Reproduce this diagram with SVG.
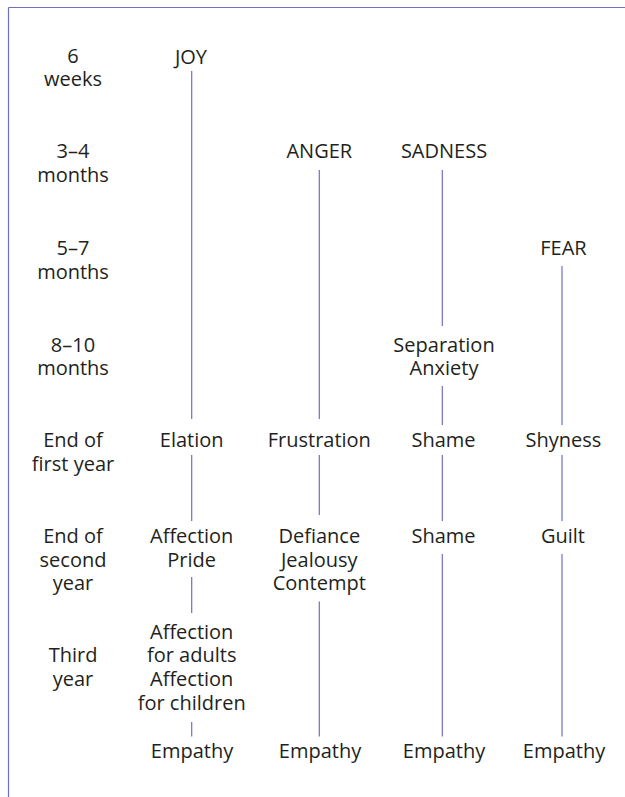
<svg xmlns="http://www.w3.org/2000/svg" width="625" height="797" viewBox="0 0 625 797">
  <style>
    text { font-family: "Open Sans", "Noto Sans", "Liberation Sans", sans-serif; font-size: 20px; fill: #231f20; text-anchor: middle; }
    .rule { stroke: #6f6fbf; stroke-width: 1.2; fill: none; }
  </style>
  <rect width="625" height="797" fill="#ffffff"/>

  <!-- frame -->
  <g id="frame">
    <line class="rule" x1="8.5" y1="7.5" x2="625" y2="7.5"/>
    <line class="rule" x1="8.5" y1="7.5" x2="8.5" y2="797"/>
  </g>

  <!-- age column -->
  <g id="ages">
    <g id="age-6w"><text x="73" y="63">6</text><text x="73" y="86">weeks</text></g>
    <g id="age-3-4m"><text x="73" y="158">3–4</text><text x="73" y="182">months</text></g>
    <g id="age-5-7m"><text x="73" y="255">5–7</text><text x="73" y="279">months</text></g>
    <g id="age-8-10m"><text x="73" y="351.5">8–10</text><text x="73" y="375">months</text></g>
    <g id="age-1y"><text x="73" y="446.5">End of</text><text x="73" y="470.5">first year</text></g>
    <g id="age-2y"><text x="73" y="543">End of</text><text x="73" y="566.5">second</text><text x="73" y="590">year</text></g>
    <g id="age-3y"><text x="73" y="662">Third</text><text x="73" y="686">year</text></g>
  </g>

  <!-- connectors -->
  <g id="connectors">
    <!-- joy -->
    <line class="rule" x1="191.7" y1="71" x2="191.7" y2="419"/>
    <line class="rule" x1="191.7" y1="455" x2="191.7" y2="521"/>
    <line class="rule" x1="191.7" y1="577" x2="191.7" y2="613"/>
    <line class="rule" x1="191.7" y1="722" x2="191.7" y2="736.5"/>
    <!-- anger -->
    <line class="rule" x1="319.3" y1="170" x2="319.3" y2="419"/>
    <line class="rule" x1="319.3" y1="455" x2="319.3" y2="515"/>
    <line class="rule" x1="319.3" y1="601.5" x2="319.3" y2="736.5"/>
    <!-- sadness -->
    <line class="rule" x1="442.3" y1="170" x2="442.3" y2="326"/>
    <line class="rule" x1="442.3" y1="386" x2="442.3" y2="425"/>
    <line class="rule" x1="442.3" y1="455" x2="442.3" y2="521"/>
    <line class="rule" x1="442.3" y1="554" x2="442.3" y2="736.5"/>
    <!-- fear -->
    <line class="rule" x1="562" y1="266" x2="562" y2="425"/>
    <line class="rule" x1="562" y1="455" x2="562" y2="521"/>
    <line class="rule" x1="562" y1="554" x2="562" y2="736.5"/>
  </g>

  <!-- joy column -->
  <g id="joy"><text x="191" y="63.5">JOY</text></g>
  <g id="elation"><text x="191.7" y="446.5">Elation</text></g>
  <g id="affection-pride"><text x="191.7" y="543">Affection</text><text x="191.7" y="566.5">Pride</text></g>
  <g id="affection-3y"><text x="191.7" y="639">Affection</text><text x="191.7" y="662">for adults</text><text x="191.7" y="686">Affection</text><text x="191.7" y="709.5">for children</text></g>
  <g id="empathy-joy"><text x="192" y="758">Empathy</text></g>

  <!-- anger column -->
  <g id="anger"><text x="319.3" y="158">ANGER</text></g>
  <g id="frustration"><text x="319.3" y="446.5">Frustration</text></g>
  <g id="defiance"><text x="319.3" y="543">Defiance</text><text x="319.3" y="566.5">Jealousy</text><text x="319.3" y="590">Contempt</text></g>
  <g id="empathy-anger"><text x="320" y="758">Empathy</text></g>

  <!-- sadness column -->
  <g id="sadness"><text x="444" y="158">SADNESS</text></g>
  <g id="separation"><text x="444" y="351.5">Separation</text><text x="444" y="375">Anxiety</text></g>
  <g id="shame-1y"><text x="443.5" y="446.5">Shame</text></g>
  <g id="shame-2y"><text x="443.5" y="543">Shame</text></g>
  <g id="empathy-sadness"><text x="444" y="758">Empathy</text></g>

  <!-- fear column -->
  <g id="fear"><text x="563.5" y="255">FEAR</text></g>
  <g id="shyness"><text x="563.5" y="446.5">Shyness</text></g>
  <g id="guilt"><text x="563" y="543">Guilt</text></g>
  <g id="empathy-fear"><text x="564" y="758">Empathy</text></g>
</svg>
